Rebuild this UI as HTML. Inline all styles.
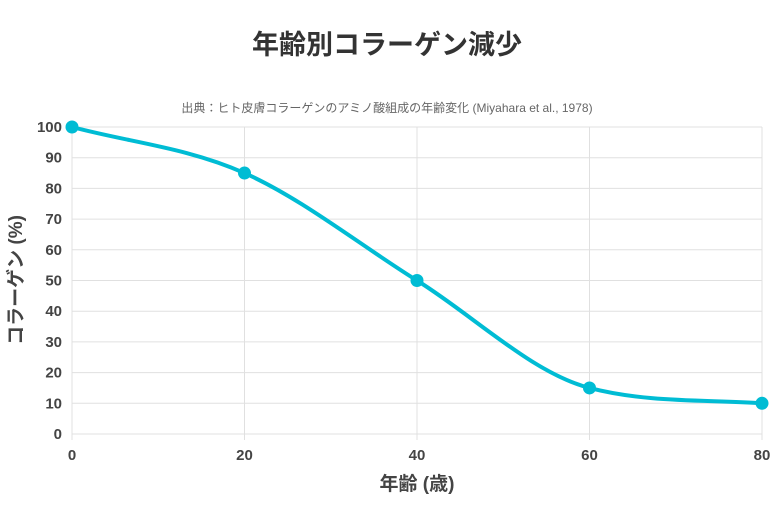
<!DOCTYPE html>
<html><head><meta charset="utf-8">
<style>
body{margin:0;background:#fff;font-family:"Liberation Sans","Noto Sans CJK JP",sans-serif;}
svg text{font-family:"Liberation Sans","Noto Sans CJK JP",sans-serif;}
</style></head>
<body>
<svg id="chart" width="774" height="500">
<text x="387" y="54" text-anchor="middle" font-size="27" font-weight="bold" fill="#333">年齢別コラーゲン減少</text>
<text x="387" y="112" text-anchor="middle" font-size="12" fill="#666">出典：ヒト皮膚コラーゲンのアミノ酸組成の年齢変化 (Miyahara et al., 1978)</text>
<g id="grid"></g>
<g id="ticks"></g>
<path id="line" fill="none" stroke="#00bcd4" stroke-width="4"></path>
<g id="points"></g>
<text x="0" y="0" transform="translate(22,280) rotate(-90)" text-anchor="middle" font-size="19" font-weight="bold" fill="#444">コラーゲン (%)</text>
<text x="417" y="490" text-anchor="middle" font-size="19" font-weight="bold" fill="#444">年齢 (歳)</text>
</svg>
<script>
const ages=[0,20,40,60,80];
const collagen=[100,85,50,15,10];
const xTicks=[0,20,40,60,80];
const yTicks=[0,10,20,30,40,50,60,70,80,90,100];
const X0=72,X1=762,Y0=434,Y1=127;
const xs=v=>X0+(v-0)/(80-0)*(X1-X0);
const ys=v=>Y0-(v-0)/(100-0)*(Y0-Y1);
const NS="http://www.w3.org/2000/svg";
const grid=document.getElementById('grid'),ticks=document.getElementById('ticks');
function mk(tag,attrs,parent){const e=document.createElementNS(NS,tag);for(const k in attrs)e.setAttribute(k,attrs[k]);parent.appendChild(e);return e;}
yTicks.forEach(t=>{
 const l=mk('line',{x1:X0,x2:X1,y1:ys(t),y2:ys(t),stroke:'#e0e0e0','stroke-width':1},grid);
 
 
 const tx=mk('text',{x:X0-10,y:ys(t)+5,'text-anchor':'end','font-size':15,'font-weight':'bold',fill:'#444'},ticks);
 tx.textContent=t;
 
 
});
xTicks.forEach(t=>{
 const l=mk('line',{x1:xs(t),x2:xs(t),y1:Y1,y2:Y0+6,stroke:'#e0e0e0','stroke-width':1},grid);
 
 
 const tx=mk('text',{x:xs(t),y:Y0+26,'text-anchor':'middle','font-size':15,'font-weight':'bold',fill:'#444'},ticks);
 tx.textContent=t;
 
 
});
const P=ages.map((a,i)=>[xs(a),ys(collagen[i])]);
// monotone cubic (Fritsch-Carlson)
const n=P.length,dl=[],m=[];
for(let i=0;i<n-1;i++)dl.push((P[i+1][1]-P[i][1])/(P[i+1][0]-P[i][0]));
for(let i=0;i<n;i++){
 if(i===0)m.push(dl[0]);else if(i===n-1)m.push(dl[n-2]);
 else m.push(dl[i-1]*dl[i]<=0?0:(dl[i-1]+dl[i])/2);
}
for(let i=0;i<n-1;i++){
 if(dl[i]===0){m[i]=0;m[i+1]=0;continue;}
 const a=m[i]/dl[i],b=m[i+1]/dl[i],s=a*a+b*b;
 if(s>9){const t=3/Math.sqrt(s);m[i]=t*a*dl[i];m[i+1]=t*b*dl[i];}
}
let d='M'+P[0][0]+','+P[0][1];
for(let i=0;i<n-1;i++){
 const h=(P[i+1][0]-P[i][0])/3;
 d+=` C${P[i][0]+h},${P[i][1]+m[i]*h} ${P[i+1][0]-h},${P[i+1][1]-m[i+1]*h} ${P[i+1][0]},${P[i+1][1]}`;
}
document.getElementById('line').setAttribute('d',d);
const pts=document.getElementById('points');
P.forEach(p=>{
 const c=mk('circle',{cx:p[0],cy:p[1],r:6.5,fill:'#00bcd4'},pts);
 
 
});
</script>
</body></html>
